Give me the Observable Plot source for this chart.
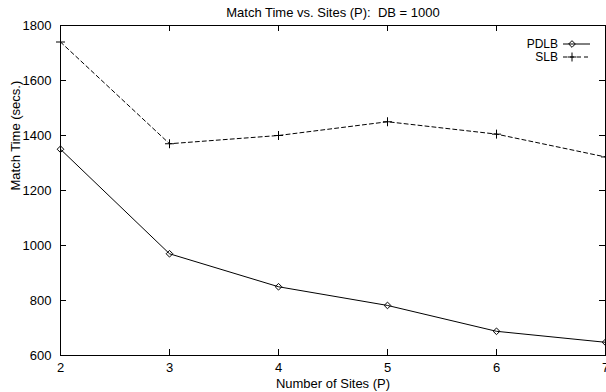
<!DOCTYPE html>
<html><head><meta charset="utf-8">
<script src="https://cdn.jsdelivr.net/npm/d3@7"></script>
<script src="https://cdn.jsdelivr.net/npm/@observablehq/plot@0.6"></script>
<style>body{margin:0;background:#fff}</style>
</head><body><div id="chart"></div>
<script>
const sites = [2, 3, 4, 5, 6, 7];
const pdlb = [1350, 970, 850, 782, 688, 648];
const slb = [1740, 1370, 1400, 1450, 1405, 1322];
const xTicks = [2, 3, 4, 5, 6, 7];
const yTicks = [600, 800, 1000, 1200, 1400, 1600, 1800];
const seriesNames = ["PDLB", "SLB"];
const titleText = "Match Time vs. Sites (P):  DB = 1000";
const xLabel = "Number of Sites (P)";
const yLabel = "Match Time (secs.)";

const rows = sites.map((s, i) => ({sites: s, pdlb: pdlb[i], slb: slb[i]}));
const W = 606, H = 392, mL = 60, mR = 1, mT = 25, mB = 37;
const innerW = W - mL - mR, innerH = H - mT - mB;
const FONT = "Liberation Sans, Arial, sans-serif";
const FS = 13;

const chart = Plot.plot({
  width: W, height: H,
  marginLeft: mL, marginRight: mR, marginTop: mT, marginBottom: mB,
  style: {fontFamily: FONT, fontSize: FS + "px", background: "white", color: "black"},
  x: {domain: [2, 7]},
  y: {domain: [600, 1800]},
  marks: [
    Plot.frame({stroke: "black"}),
    Plot.tickX(xTicks, {x: d => d, insetTop: innerH - 6, stroke: "black"}),
    Plot.tickX(xTicks, {x: d => d, insetBottom: innerH - 6, stroke: "black"}),
    Plot.tickY(yTicks, {y: d => d, insetRight: innerW - 6, stroke: "black"}),
    Plot.tickY(yTicks, {y: d => d, insetLeft: innerW - 6, stroke: "black"}),
    Plot.axisX({ticks: xTicks, tickFormat: d => String(d), tickSize: 0, tickPadding: 7, label: null, fontSize: FS}),
    Plot.axisY({ticks: yTicks, tickFormat: d => String(d), tickSize: 0, tickPadding: 9, label: null, fontSize: FS}),
    Plot.line(rows, {x: "sites", y: "pdlb", stroke: "black", strokeWidth: 1}),
    Plot.line(rows, {x: "sites", y: "slb", stroke: "black", strokeWidth: 1, strokeDasharray: "4,3"}),
    Plot.dot(rows, {x: "sites", y: "pdlb", symbol: "diamond2", r: 3, stroke: "black", fill: "none", strokeWidth: 1}),
    Plot.dot(rows, {x: "sites", y: "slb", symbol: "plus", r: 3, stroke: "black", fill: "none", strokeWidth: 1}),
    Plot.text([titleText], {frameAnchor: "top", dy: -13, lineAnchor: "middle", fontSize: FS}),
    Plot.text([xLabel], {frameAnchor: "bottom", dy: 28, lineAnchor: "middle", fontSize: FS}),
    Plot.text([yLabel], {frameAnchor: "left", dx: -45, rotate: -90, lineAnchor: "middle", fontSize: FS})
  ]
});
document.getElementById("chart").appendChild(chart);

// legend (inside the frame, top right)
const svg = d3.select(chart);
const LFS = 12;
const lg = svg.append("g").attr("font-family", FONT).attr("font-size", LFS);
const legendItems = [
  {name: seriesNames[0], dash: null, sym: d3.symbolDiamond2},
  {name: seriesNames[1], dash: "4,3", sym: d3.symbolPlus}
];
legendItems.forEach((it, i) => {
  const y = 44 + i * 13;
  lg.append("text").attr("x", 558).attr("y", y).attr("dy", "0.35em")
    .attr("text-anchor", "end").attr("fill", "black").text(it.name);
  lg.append("line").attr("x1", 563).attr("x2", 590).attr("y1", y).attr("y2", y)
    .attr("stroke", "black").attr("stroke-dasharray", it.dash);
  lg.append("path").attr("transform", `translate(572,${y})`)
    .attr("d", d3.symbol(it.sym, 3 * 3 * Math.PI)())
    .attr("fill", "none").attr("stroke", "black");
});
</script></body></html>
